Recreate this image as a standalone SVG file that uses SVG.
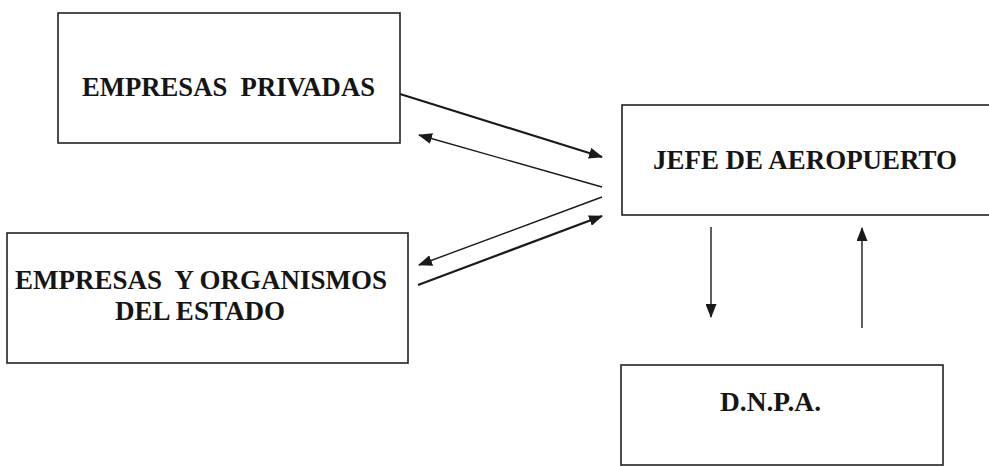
<svg xmlns="http://www.w3.org/2000/svg" width="989" height="466" viewBox="0 0 989 466">
  <style>
    .box { fill: #ffffff; stroke: #222; stroke-width: 1.6; }
    .lbl { font-family: "Liberation Serif", "Times New Roman", serif; font-weight: bold; font-size: 28px; fill: #151515; white-space: pre; }
    .thick { stroke: #1a1a1a; stroke-width: 2.2; fill: none; }
    .thin { stroke: #1a1a1a; stroke-width: 1.4; fill: none; }
  </style>
  <defs>
    <marker id="head" viewBox="0 0 14 11" refX="13" refY="5.5" markerWidth="14" markerHeight="11" markerUnits="userSpaceOnUse" orient="auto">
      <path d="M0,0 L14,5.5 L0,11 Z" fill="#1a1a1a"/>
    </marker>
  </defs>
  <rect width="989" height="466" fill="#ffffff"/>

  <g id="empresas-privadas">
    <rect class="box" x="58" y="13" width="342" height="130"/>
    <text class="lbl" x="82" y="96" textLength="293" lengthAdjust="spacingAndGlyphs">EMPRESAS  PRIVADAS</text>
  </g>

  <g id="empresas-estado">
    <rect class="box" x="7" y="233" width="401" height="130"/>
    <text class="lbl" x="15" y="289" textLength="372" lengthAdjust="spacingAndGlyphs">EMPRESAS  Y ORGANISMOS</text>
    <text class="lbl" x="115" y="320" textLength="170" lengthAdjust="spacingAndGlyphs">DEL ESTADO</text>
  </g>

  <g id="jefe-aeropuerto">
    <rect class="box" x="622" y="105" width="380" height="110"/>
    <text class="lbl" x="653" y="169" textLength="304" lengthAdjust="spacingAndGlyphs">JEFE DE AEROPUERTO</text>
  </g>

  <g id="dnpa">
    <rect class="box" x="621" y="365" width="322" height="100"/>
    <text class="lbl" x="720" y="411" font-size="26" textLength="101" lengthAdjust="spacingAndGlyphs">D.N.P.A.</text>
  </g>

  <g id="connectors">
    <line class="thick" x1="400" y1="94" x2="602" y2="157" marker-end="url(#head)"/>
    <line class="thin" x1="602" y1="187" x2="419" y2="135" marker-end="url(#head)"/>
    <line class="thin" x1="602" y1="197" x2="419" y2="265" marker-end="url(#head)"/>
    <line class="thick" x1="418" y1="285" x2="602" y2="216" marker-end="url(#head)"/>
    <line class="thin" x1="711" y1="227" x2="711" y2="317" marker-end="url(#head)"/>
    <line class="thin" x1="862" y1="328" x2="862" y2="228" marker-end="url(#head)"/>
  </g>
</svg>
